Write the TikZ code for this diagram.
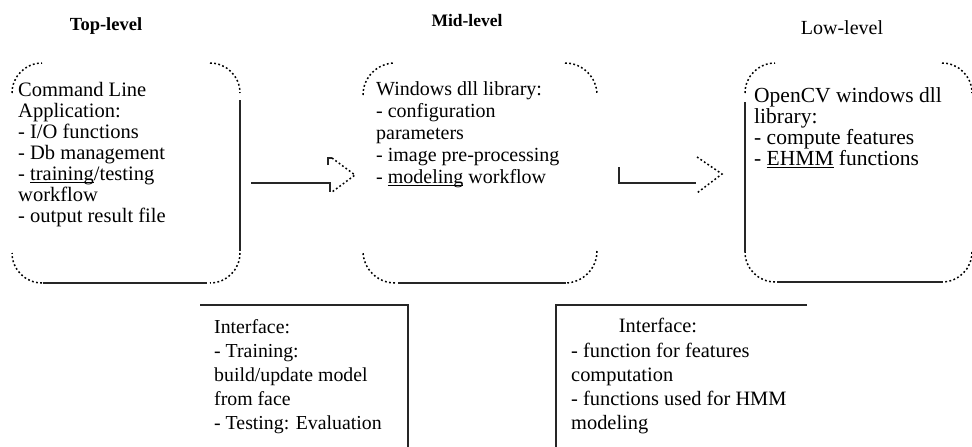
\documentclass[tikz,border=0pt]{standalone}
\usepackage{fontspec}
\setmainfont{Liberation Serif}
% four dotted rounded corners of a box: left, top, right, bottom, radius
\newcommand\cornerarcs[5]{%
  \draw[dotcorner] ({#1},{#2+#5}) .. controls ({#1},{#2+0.448*#5}) and ({#1+0.448*#5},{#2}) .. ({#1+#5},{#2});
  \draw[dotcorner] ({#3-#5},{#2}) .. controls ({#3-0.448*#5},{#2}) and ({#3},{#2+0.448*#5}) .. ({#3},{#2+#5});
  \draw[dotcorner] ({#3},{#4-#5}) .. controls ({#3},{#4-0.448*#5}) and ({#3-0.448*#5},{#4}) .. ({#3-#5},{#4});
  \draw[dotcorner] ({#1+#5},{#4}) .. controls ({#1+0.448*#5},{#4}) and ({#1},{#4-0.448*#5}) .. ({#1},{#4-#5});
}
% thin mark under a word, just below the baseline
\newcommand\wordmark[1]{\setbox0\hbox{#1}\rlap{\rule[-2.2pt]{\wd0}{0.7pt}}\box0\relax}
\begin{document}
\begin{tikzpicture}[x=1pt,y=-1pt,
  edge/.style={line width=1.3pt, black!85, line cap=butt},
  dotcorner/.style={line width=1.5pt, dash pattern=on 1.8pt off 2.4pt, black},
  body/.style={inner sep=0pt, anchor=north west, align=left, text=black},
  header/.style={inner sep=0pt, text=black}]
\useasboundingbox (0,0) rectangle (972,447);

% level titles
\node[header, font=\fontsize{18.5}{19}\selectfont\bfseries] (htop) at (106,26) {Top-level};
\node[header, font=\fontsize{17.5}{18}\selectfont\bfseries] (hmid) at (467,21) {Mid-level};
\node[header, font=\fontsize{20}{20}\selectfont] (hlow) at (842,28) {Low-level};

% top-level box
\cornerarcs{12}{63}{240}{283}{30}
\draw[edge] (240,100) -- (240,251);
\draw[edge] (43,283) -- (207,283);
\node[body, font=\fontsize{20.5}{21}\selectfont] (ltext) at (18,82)
  {Command Line\\Application:\\- I/O functions\\- Db management\\- \wordmark{training}/testing\\workflow\\- output result file};

% mid-level box
\cornerarcs{363}{63}{597}{283}{32}
\draw[edge] (398,283) -- (566,283);
\node[body, font=\fontsize{20}{22}\selectfont] (mtext) at (376,81)
  {Windows dll library:\\- configuration\\parameters\\- image pre-processing\\- \wordmark{modeling} workflow};

% low-level box
\cornerarcs{745}{63}{972}{282}{30}
\draw[edge] (745,102) -- (745,252);
\draw[edge] (777,282) -- (943,282);
\node[body, font=\fontsize{21.5}{21}\selectfont] (rtext) at (754,87)
  {OpenCV windows dll\\library:\\- compute features\\- \wordmark{EHMM} functions};

% arrow top-level -> mid-level
\draw[edge] (251,183) -- (330,183) -- (330,192);
\draw[edge] (328,165) -- (328,158) -- (332,158);
\draw[dotcorner] (332,158) -- (355,175) -- (332,192);

% arrow mid-level -> low-level
\draw[edge] (619,167) -- (619,183) -- (696,183);
\draw[dotcorner] (697,157) -- (722,174) -- (697,193);

% interface boxes
\draw[edge] (200,305) -- (408,305) -- (408,447);
\node[body, font=\fontsize{19.8}{24}\selectfont] (i1text) at (214,319)
  {Interface:\\- Training:\\build/update model\\from face\\- Testing: Evaluation};

\draw[edge] (807,305) -- (556,305) -- (556,447);
\node[header, anchor=north, font=\fontsize{20.4}{24}\selectfont] (i2title) at (658,318) {Interface:};
\node[body, font=\fontsize{20.4}{24}\selectfont] (i2text) at (571,343)
  {- function for features\\computation\\- functions used for HMM\\modeling};
\end{tikzpicture}
\end{document}
